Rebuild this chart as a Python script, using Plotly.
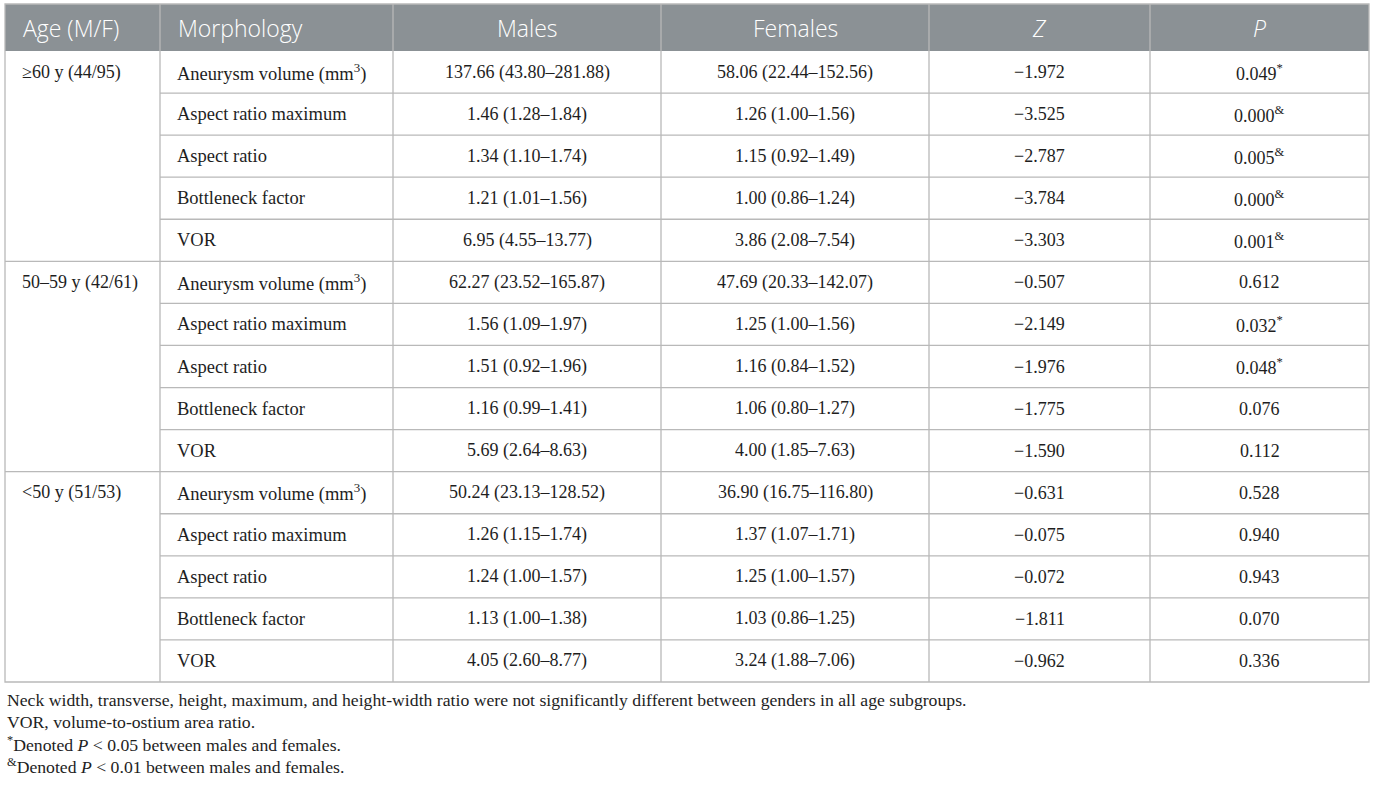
import plotly.graph_objects as go

# ---- table data ----
headers = ["Age (M/F)", "Morphology", "Males", "Females", "<i>Z</i>", "<i>P</i>"]
ages = ["≥60 y (44/95)", "50–59 y (42/61)", "&lt;50 y (51/53)"]
morphology = ["Aneurysm volume (mm<sup>3</sup>)", "Aspect ratio maximum",
              "Aspect ratio", "Bottleneck factor", "VOR"]

males_med = [137.66, 1.46, 1.34, 1.21, 6.95,
             62.27, 1.56, 1.51, 1.16, 5.69,
             50.24, 1.26, 1.24, 1.13, 4.05]
males_q1 = [43.80, 1.28, 1.10, 1.01, 4.55,
            23.52, 1.09, 0.92, 0.99, 2.64,
            23.13, 1.15, 1.00, 1.00, 2.60]
males_q3 = [281.88, 1.84, 1.74, 1.56, 13.77,
            165.87, 1.97, 1.96, 1.41, 8.63,
            128.52, 1.74, 1.57, 1.38, 8.77]
females_med = [58.06, 1.26, 1.15, 1.00, 3.86,
               47.69, 1.25, 1.16, 1.06, 4.00,
               36.90, 1.37, 1.25, 1.03, 3.24]
females_q1 = [22.44, 1.00, 0.92, 0.86, 2.08,
              20.33, 1.00, 0.84, 0.80, 1.85,
              16.75, 1.07, 1.00, 0.86, 1.88]
females_q3 = [152.56, 1.56, 1.49, 1.24, 7.54,
              142.07, 1.56, 1.52, 1.27, 7.63,
              116.80, 1.71, 1.57, 1.25, 7.06]
z_values = [-1.972, -3.525, -2.787, -3.784, -3.303,
            -0.507, -2.149, -1.976, -1.775, -1.590,
            -0.631, -0.075, -0.072, -1.811, -0.962]
p_values = [0.049, 0.000, 0.005, 0.000, 0.001,
            0.612, 0.032, 0.048, 0.076, 0.112,
            0.528, 0.940, 0.943, 0.070, 0.336]
p_marks = ["*", "&amp;", "&amp;", "&amp;", "&amp;",
           "", "*", "*", "", "",
           "", "", "", "", ""]

notes = [
    "Neck width, transverse, height, maximum, and height-width ratio were not "
    "significantly different between genders in all age subgroups.",
    "VOR, volume-to-ostium area ratio.",
    "<sup>*</sup>Denoted <i>P</i> &lt; 0.05 between males and females.",
    "<sup>&amp;</sup>Denoted <i>P</i> &lt; 0.01 between males and females.",
]

# ---- layout constants ----
W, H = 1375, 785
col_edges = [5, 160, 393, 661, 929, 1150, 1369]
top, head_bot, bottom = 4, 51, 682
n_rows = len(males_med)
row_h = (bottom - head_bot) / n_rows
group = len(morphology)

HEAD_FILL = "#8b9195"
LINE = "#b9b9b9"
TXT = "#1e1e1e"
serif = "Liberation Serif"
BODY = 18
PAD = 15


def rng(m, a, b):
    return f"{m:.2f} ({a:.2f}–{b:.2f})"


def minus(v):
    return f"{v:.3f}".replace("-", "−")


fig = go.Figure()
shapes = []
annos = []

# header band
shapes.append(dict(type="rect", x0=col_edges[0], x1=col_edges[-1], y0=top, y1=head_bot,
                   fillcolor=HEAD_FILL, line=dict(width=0), layer="below"))

# header labels
for i, h in enumerate(headers):
    if i < 2:
        x, anchor = col_edges[i] + PAD + 1, "left"
    else:
        x, anchor = (col_edges[i] + col_edges[i + 1]) / 2, "center"
    annos.append(dict(x=x, y=(top + head_bot) / 2, text=h, xanchor=anchor,
                      font=dict(family="Open Sans", size=23, color="white", weight=300)))

# body cells
for r in range(n_rows):
    yc = head_bot + row_h * (r + 0.5)
    if r % group == 0:
        annos.append(dict(x=col_edges[0] + PAD, y=yc, text=ages[r // group], xanchor="left",
                          font=dict(family=serif, size=BODY, color=TXT)))
    annos.append(dict(x=col_edges[1] + PAD, y=yc, text=morphology[r % group], xanchor="left",
                      font=dict(family=serif, size=BODY + 0.5, color=TXT)))
    cells = [rng(males_med[r], males_q1[r], males_q3[r]),
             rng(females_med[r], females_q1[r], females_q3[r]),
             minus(z_values[r]),
             f"{p_values[r]:.3f}" + (f"<sup>{p_marks[r]}</sup>" if p_marks[r] else "")]
    for c, t in enumerate(cells):
        annos.append(dict(x=(col_edges[c + 2] + col_edges[c + 3]) / 2, y=yc, text=t,
                          xanchor="center", font=dict(family=serif, size=BODY, color=TXT)))

# horizontal rules
for r in range(1, n_rows):
    y = head_bot + row_h * r
    x0 = col_edges[0] if r % group == 0 else col_edges[1]
    shapes.append(dict(type="line", x0=x0, x1=col_edges[-1], y0=y, y1=y,
                       line=dict(color=LINE, width=1.3)))

# vertical rules
for x in col_edges[1:-1]:
    shapes.append(dict(type="line", x0=x, x1=x, y0=top, y1=bottom,
                       line=dict(color=LINE, width=1.3)))

# outer border
shapes.append(dict(type="rect", x0=col_edges[0], x1=col_edges[-1], y0=top, y1=bottom,
                   line=dict(color=LINE, width=1.3)))

# footnotes
for i, t in enumerate(notes):
    annos.append(dict(x=col_edges[0], y=700 + 22 * i, text=t, xanchor="left",
                      font=dict(family=serif, size=17.7, color=TXT)))

for a in annos:
    a.update(xref="x", yref="y", showarrow=False, yanchor="middle")

fig.update_layout(
    width=W, height=H,
    margin=dict(l=0, r=0, t=0, b=0),
    paper_bgcolor="white", plot_bgcolor="white",
    xaxis=dict(range=[0, W], visible=False, fixedrange=True),
    yaxis=dict(range=[H, 0], visible=False, fixedrange=True),
    shapes=shapes, annotations=annos,
    showlegend=False,
)

# drop the browser's default body margin so the figure sits at the page corner
fig.write_html("out.html", config={"displayModeBar": False},
               post_script="document.body.style.margin = '0';")
